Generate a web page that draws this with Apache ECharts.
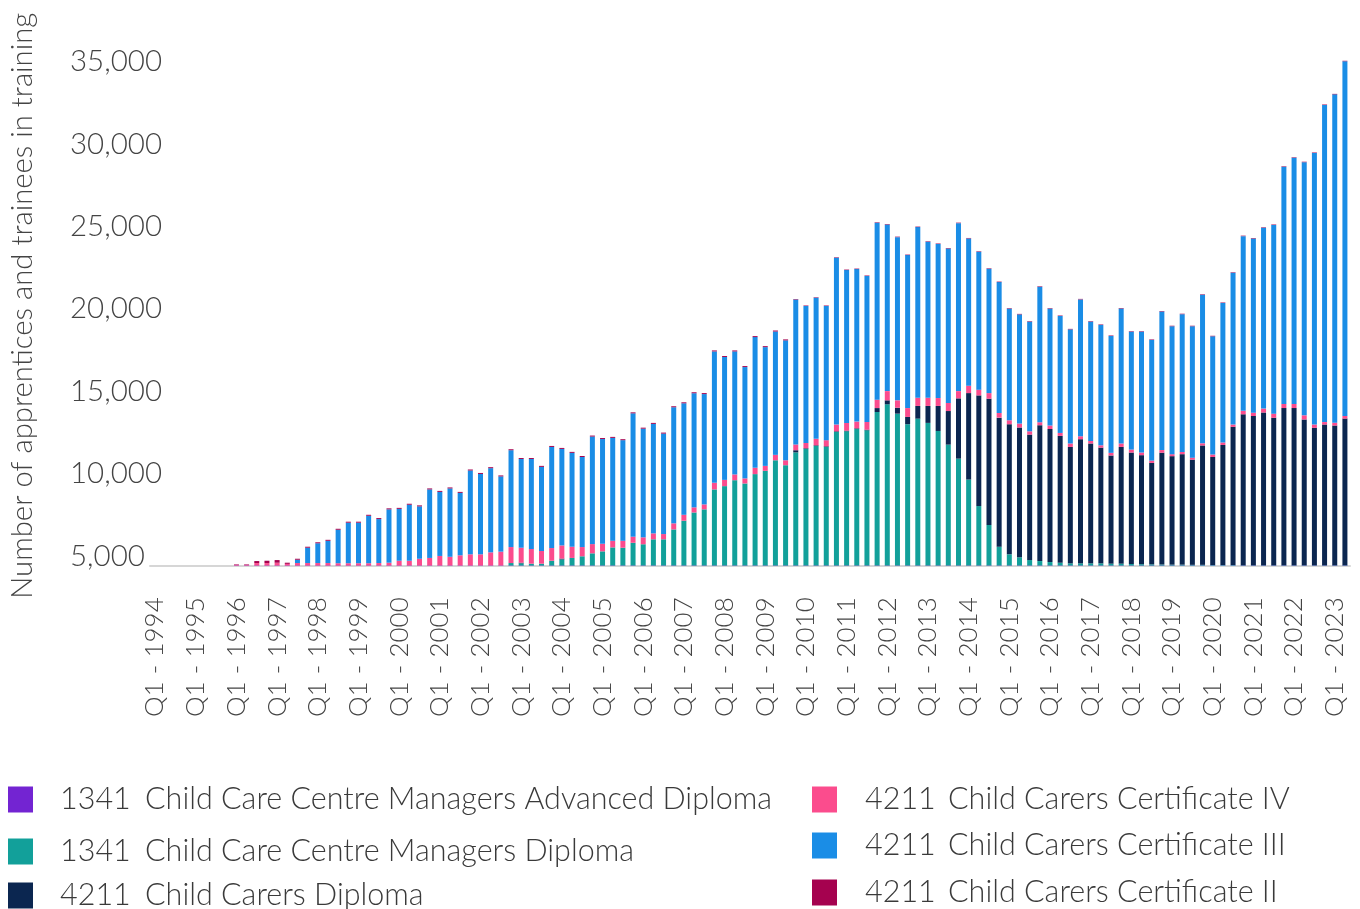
<!DOCTYPE html>
<html>
<head>
<meta charset="utf-8">
<script src="https://cdn.jsdelivr.net/npm/echarts@6/dist/echarts.min.js"></script>
<style>
html,body{margin:0;padding:0;background:#ffffff;}
#chart{width:1360px;height:909px;}
</style>
</head>
<body>
<div id="chart"></div>
<script>
// Quarterly categories Q1 1994 .. Q2 2023
const years = [1994,1995,1996,1997,1998,1999,2000,2001,2002,2003,2004,2005,2006,2007,2008,2009,2010,2011,2012,2013,2014,2015,2016,2017,2018,2019,2020,2021,2022,2023];
const quarters = ['Q1','Q2','Q3','Q4'];
const categories = [];
years.forEach(function (y) { quarters.forEach(function (q) { categories.push(q + ' - ' + y); }); });
categories.length = 118;

// Tick labels on the value axis
const yTicks = [5000, 10000, 15000, 20000, 25000, 30000, 35000];

// Legend entries
const legendCodes = ['1341', '1341', '4211', '4211', '4211', '4211'];
const legendNames = ['Child Care Centre Managers Advanced Diploma', 'Child Care Centre Managers Diploma', 'Child Carers Diploma', 'Child Carers Certificate IV', 'Child Carers Certificate III', 'Child Carers Certificate II'];

// Series values (one row per year, four quarters each)
const advDiploma = [
  0,0,0,0, 0,0,0,0,
  5030,5030,5030,5030, 5030,5030,5030,5030, 5030,5030,5030,5030, 5030,5030,5030,5030,
  5030,5030,5030,5030, 5030,5030,5030,5030, 5030,5030,5030,5030, 5030,5030,5030,5030,
  5030,5030,5030,5030, 5030,5030,5030,5030, 5030,5030,5030,5030, 5030,5030,5030,5030,
  5030,5030,5030,5030, 5030,5030,5030,5030, 5030,5030,5030,5030, 5030,5030,5030,5030,
  5030,5030,5030,5030, 5030,5030,5030,5030, 5030,5030,5030,5030, 5030,5030,5030,5030,
  5030,5030,5030,5030, 5030,5030,5030,5030, 5030,5030,5030,5030, 5030,5030,5030,5030,
  5030,5030,5030,5030, 5030,5030,5030,5030, 5030,5030,5030,5030,
  5030,5030
];
const managersDiploma = [
  0,0,0,0, 0,0,0,0, 0,0,0,0, 0,0,0,0, 0,0,0,0, 0,0,0,0, 0,0,0,0, 0,0,0,0,
  0,0,0,150,
  130,110,110,290,
  370,460,560,740,
  860,1100,1080,1380,
  1290,1590,1590,2190,
  2720,3220,3410,4620,
  4820,5180,4980,5550,
  5750,6390,6090,6870,
  7080,7260,7200,8110,
  8150,8290,8210,9320,
  9790,9220,8580,8920,
  8660,8170,7340,6490,
  5220,3610,2460,1140,
  680,500,330,270,
  210,170,130,130,
  130,130,110,110,
  90,80,70,60,
  50,50,40,40,
  30,30,30,20,
  20,20,20,20,
  20,20,20,20,
  20,20
];
const carersDiploma = [
  0,0,0,0, 0,0,0,0, 0,0,0,0, 0,0,0,0, 0,0,0,0, 0,0,0,0, 0,0,0,0, 0,0,0,0, 0,0,0,0,
  40,0,0,0,
  50,0,0,0,
  0,0,0,0, 0,0,0,0, 0,0,0,0, 0,0,0,0,
  0,0,0,130,
  40,40,40,40,
  40,40,40,240,
  240,360,440,770,
  1030,1520,2040,3660,
  5250,6720,7670,7840,
  7900,7880,7620,8250,
  8080,7700,7070,7540,
  7280,7030,6570,7090,
  6770,6620,6160,6790,
  6590,6710,6390,7250,
  6560,7290,8390,9160,
  9060,9270,8950,9540,
  9540,8850,8340,8540,
  8480,8900
];
const certIV = [
  0,0,0,0, 0,0,0,0,
  40,40,150,150,
  170,100,150,150,
  150,150,140,140,
  140,140,150,170,
  290,290,410,460,
  580,530,620,680,
  680,800,840,970,
  910,890,770,770,
  800,680,560,560,
  460,400,420,370,
  420,360,320,370,
  360,310,300,400,
  380,350,310,380,
  300,330,300,350,
  320,390,370,410,
  470,410,470,510,
  560,450,540,500,
  500,480,490,440,
  450,350,340,280,
  240,240,200,180,
  210,180,210,180,
  150,140,160,210,
  180,160,140,160,
  120,140,120,130,
  150,150,140,210,
  200,240,250,250,
  250,250,200,150,
  170,160
];
const certIII = [
  0,0,0,0, 0,0,0,0,
  0,0,0,0,
  0,0,200,930,
  1200,1350,2030,2460,
  2460,2880,2670,3240,
  3150,3400,3180,4160,
  3890,4150,3790,5090,
  4880,5110,4570,5880,
  5390,5470,5110,6140,
  5860,5700,5470,6530,
  6360,6250,6110,7490,
  6600,6650,6100,7050,
  6770,6930,6700,7980,
  7460,7470,6760,7940,
  7210,7490,7280,8800,
  8320,8570,8150,10130,
  9280,9260,8860,10740,
  10110,9910,9290,10360,
  9470,9360,9380,10200,
  8940,8370,7550,7950,
  6780,6630,6660,8230,
  7100,7100,6930,8310,
  7250,7310,7100,8190,
  7160,7340,7330,8410,
  7770,8360,7980,9020,
  7180,8470,9220,10610,
  10570,10980,11460,14410,
  14950,15370,16490,19260,
  19940,21540
];
const certII = [
  0,0,0,0, 0,0,0,0,
  30,30,120,140,
  160,70,60,60,
  60,60,60,60, 60,60,60,60, 60,60,60,60, 60,60,60,60, 60,60,60,60,
  60,60,60,60, 60,60,60,60, 60,60,60,60, 60,60,60,60, 60,60,60,60, 60,60,60,60,
  60,60,60,30,
  30,30,30,30, 30,30,30,30, 30,30,30,30, 30,30,30,30, 30,30,30,30, 30,30,30,30,
  30,30,30,30, 30,30,30,30, 30,30,30,30, 30,30,30,30, 30,30,30,30, 30,30,30,30,
  30,30,30,30,
  30,30
];

const seriesData = [advDiploma, managersDiploma, carersDiploma, certIV, certIII, certII];
const colors = ['#7324D2', '#12A09A', '#0B2650', '#FB4C8D', '#1A8DE6', '#A5024F'];
const FONT = 'Lato';
const seriesNames = legendNames.map(function (n, i) { return legendCodes[i] + ' ' + n; });

const legendPos = [
  {left: 8, top: 784}, {left: 8, top: 836}, {left: 8, top: 880},
  {left: 812, top: 784}, {left: 812, top: 830}, {left: 812, top: 877}
];
const LEG_FS = 30.5;
const legends = seriesNames.map(function (name, i) {
  const right = i >= 3;
  return {
    data: [name], left: legendPos[i].left, top: legendPos[i].top, orient: 'vertical',
    icon: 'rect', itemWidth: 25, itemHeight: 26, itemGap: 0, padding: 0, selectedMode: false,
    formatter: function () { return '{s|}{c|' + legendCodes[i] + '}{n|' + legendNames[i] + '}'; },
    textStyle: {
      fontFamily: FONT, fontWeight: 300, fontSize: LEG_FS, color: '#3a3a3a',
      rich: {
        s: {width: right ? 23 : 22},
        c: {width: right ? 83 : 85, fontFamily: FONT, fontWeight: 300, fontSize: LEG_FS, color: '#3a3a3a'},
        n: {fontFamily: FONT, fontWeight: 300, fontSize: LEG_FS, color: '#3a3a3a'}
      }
    }
  };
});

const chart = echarts.init(document.getElementById('chart'), null, {renderer: 'canvas'});
chart.setOption({
  animation: false,
  backgroundColor: '#ffffff',
  color: colors,
  legend: legends,
  grid: {left: 150, right: 10, top: 55.5, bottom: 343, containLabel: false},
  xAxis: {
    type: 'category', data: categories, boundaryGap: true,
    axisTick: {show: false},
    axisLine: {lineStyle: {color: '#d6d6d6', width: 2}},
    axisLabel: {interval: 3, rotate: 90, align: 'left', margin: 151, fontFamily: FONT, fontWeight: 300, fontSize: 26, color: '#444'}
  },
  yAxis: {
    type: 'value', min: yTicks[0], max: 36000, interval: yTicks[1] - yTicks[0],
    axisLine: {show: false}, axisTick: {show: false}, splitLine: {show: false},
    axisLabel: {
      showMaxLabel: false, align: 'left', margin: 80, verticalAlign: 'bottom', lineHeight: 20,
      fontFamily: FONT, fontWeight: 300, fontSize: 29.5, color: '#444',
      formatter: function (v) { return yTicks.indexOf(v) >= 0 ? v.toLocaleString('en-US') : ''; }
    },
    name: 'Number of apprentices and trainees in training', nameLocation: 'middle', nameGap: 113, nameRotate: 90,
    nameTextStyle: {fontFamily: FONT, fontWeight: 300, fontSize: 29.3, color: '#444', padding: [0, 0, 0, 10]}
  },
  series: seriesNames.map(function (name, i) {
    return {
      name: name, type: 'bar', stack: 'total', barWidth: 5, clip: true,
      itemStyle: {color: colors[i]}, emphasis: {disabled: true},
      data: seriesData[i]
    };
  })
});
</script>
</body>
</html>
